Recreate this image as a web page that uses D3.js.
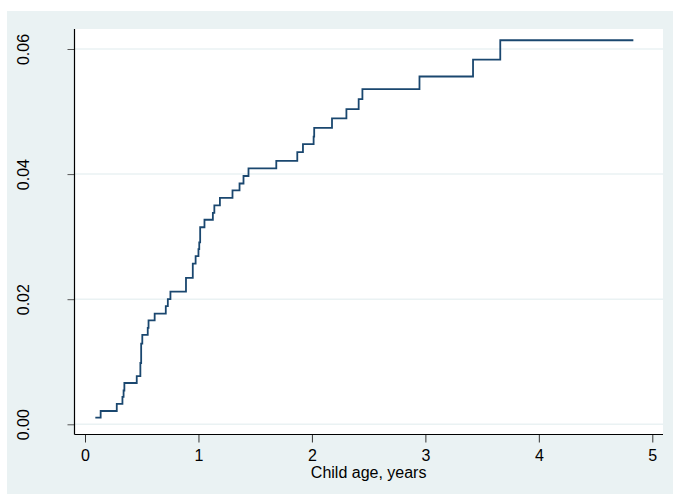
<!DOCTYPE html>
<html>
<head>
<meta charset="utf-8">
<script src="https://cdn.jsdelivr.net/npm/d3@7"></script>
<style>
  body { margin: 0; background: #fff; }
  text { font-family: "Liberation Sans", Arial, sans-serif; fill: #000; }
</style>
</head>
<body>
<script>
const width = 673;
const height = 495;

// cumulative incidence by child age (step function)
const ageYears = [0.091, 0.138, 0.28, 0.33, 0.34, 0.347, 0.456, 0.488, 0.495, 0.505,
  0.553, 0.56, 0.614, 0.712, 0.73, 0.753, 0.89, 0.95, 0.975, 1.0,
  1.007, 1.015, 1.053, 1.127, 1.14, 1.189, 1.30, 1.362, 1.397, 1.441,
  1.686, 1.871, 1.921, 2.015, 2.02, 2.177, 2.304, 2.412, 2.445, 2.948,
  3.42, 3.66, 4.833];
const cumInc = [0.00106, 0.00213, 0.00325, 0.0044, 0.0054, 0.0066, 0.0077, 0.0098, 0.0129, 0.0143,
  0.0154, 0.0166, 0.0177, 0.0189, 0.0200, 0.0212, 0.0234, 0.0257, 0.0269, 0.0280,
  0.0291, 0.0315, 0.0327, 0.0338, 0.0350, 0.0362, 0.0374, 0.0385, 0.0397, 0.0409,
  0.0421, 0.0435, 0.0448, 0.0460, 0.0474, 0.0489, 0.0504, 0.0520, 0.0536, 0.0556,
  0.0583, 0.0614, 0.0614];

const xTicks = [0, 1, 2, 3, 4, 5];
const yTicks = [0, 0.02, 0.04, 0.06];
const xTitle = "Child age, years";

const plot = { left: 74.5, right: 663, top: 29, bottom: 434.5 };

const svg = d3.select("body").append("svg")
  .attr("width", width)
  .attr("height", height);

// outer graph region
svg.append("rect")
  .attr("x", 7).attr("y", 11)
  .attr("width", width - 7).attr("height", 483)
  .attr("fill", "#eaf2f3");

// plot region
svg.append("rect")
  .attr("x", plot.left).attr("y", plot.top)
  .attr("width", plot.right - plot.left).attr("height", plot.bottom - plot.top)
  .attr("fill", "#fff");

const x = d3.scaleLinear().domain([0, 5]).range([85, 652.3]);
const y = d3.scaleLinear().domain([0, 0.06]).range([424.3, 49]);

// grid lines
svg.append("g")
  .selectAll("line")
  .data(yTicks)
  .enter()
  .append("line")
  .attr("x1", plot.left).attr("x2", plot.right)
  .attr("y1", d => y(d)).attr("y2", d => y(d))
  .attr("stroke", "#eaf2f3")
  .attr("stroke-width", 1.5);

// step line
const data = ageYears.map((t, i) => ({ t: t, v: cumInc[i] }));
const line = d3.line()
  .x(d => x(d.t))
  .y(d => y(d.v))
  .curve(d3.curveStepAfter);

svg.append("path")
  .datum(data)
  .attr("d", line)
  .attr("fill", "none")
  .attr("stroke", "#1a476f")
  .attr("stroke-width", 1.8);

// axes
const xAxis = svg.append("g")
  .attr("transform", `translate(0,${plot.bottom})`)
  .call(d3.axisBottom(x).tickValues(xTicks).tickSize(8).tickFormat(d3.format("d")));
xAxis.select(".domain").remove();
xAxis.selectAll(".tick line").attr("stroke", "#333");
xAxis.selectAll(".tick text")
  .attr("y", 26.5).attr("dy", null)
  .attr("font-size", 16)
  .attr("font-family", "Liberation Sans, Arial, sans-serif")
  .attr("fill", "#000");

const yAxis = svg.append("g")
  .attr("transform", `translate(${plot.left},0)`)
  .call(d3.axisLeft(y).tickValues(yTicks).tickSize(7).tickFormat(d3.format(".2f")));
yAxis.select(".domain").remove();
yAxis.selectAll(".tick line").attr("stroke", "#555");
yAxis.selectAll(".tick text")
  .attr("x", null).attr("dy", null)
  .attr("transform", "translate(-46,0) rotate(-90)")
  .attr("text-anchor", "middle")
  .attr("font-size", 16)
  .attr("font-family", "Liberation Sans, Arial, sans-serif")
  .attr("fill", "#000");

// axis lines
svg.append("line")
  .attr("x1", plot.left).attr("x2", plot.left)
  .attr("y1", plot.top).attr("y2", plot.bottom)
  .attr("stroke", "#000").attr("stroke-width", 1.2);
svg.append("line")
  .attr("x1", plot.left).attr("x2", plot.right)
  .attr("y1", plot.bottom).attr("y2", plot.bottom)
  .attr("stroke", "#000").attr("stroke-width", 1.2);

svg.append("text")
  .attr("x", (x(0) + x(5)) / 2)
  .attr("y", 478.3)
  .attr("text-anchor", "middle")
  .attr("font-size", 16)
  .text(xTitle);
</script>
</body>
</html>
